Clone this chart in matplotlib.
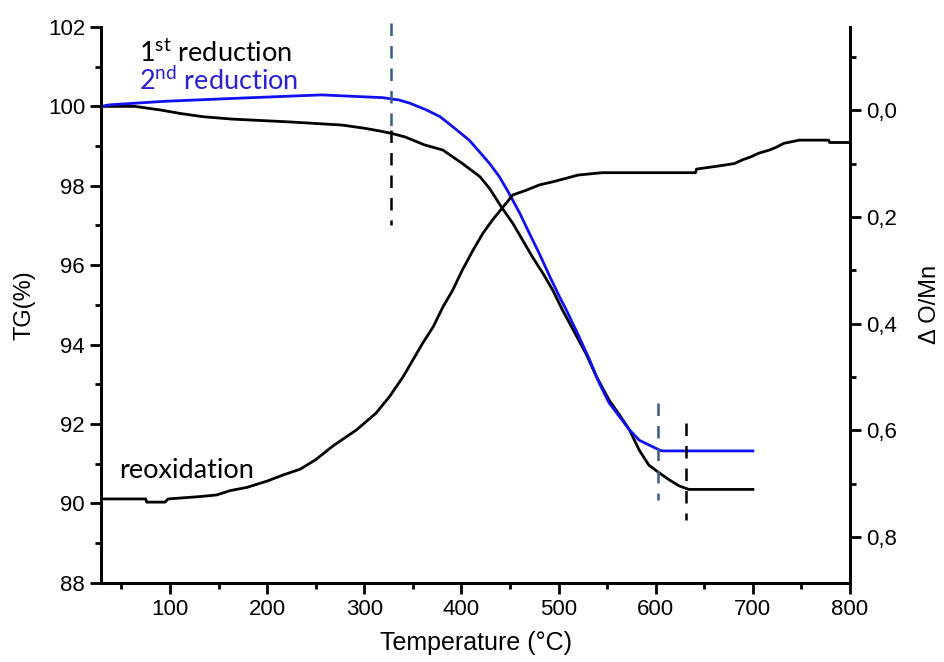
import numpy as np
import matplotlib.pyplot as plt

# 1st reduction (black), TG in %
t_red1 = [29, 64, 90, 111, 134, 164, 222, 277, 300, 316, 328, 342, 362, 381, 401,
          419, 429, 441, 453, 463, 473, 484, 494, 504, 515, 528, 539, 552, 564,
          573, 583, 593, 604, 614, 624, 634, 700]
tg_red1 = [100.0, 100.0, 99.91, 99.82, 99.74, 99.68, 99.61, 99.53, 99.45, 99.38, 99.32,
           99.23, 99.03, 98.90, 98.56, 98.23, 97.93, 97.47, 97.05, 96.63, 96.21, 95.79,
           95.37, 94.87, 94.37, 93.78, 93.19, 92.60, 92.18, 91.85, 91.34, 90.96, 90.76,
           90.59, 90.44, 90.35, 90.35]

# 2nd reduction (blue)
t_red2 = [29, 38, 96, 164, 256, 319, 336, 347, 364, 378, 393, 408, 417, 429, 439, 449,
          460, 470, 480, 491, 501, 508, 521, 532, 542, 552, 573, 583, 593, 604, 607, 700]
tg_red2 = [100.0, 100.04, 100.13, 100.20, 100.29, 100.22, 100.16, 100.08, 99.91, 99.74,
           99.45, 99.15, 98.90, 98.56, 98.23, 97.81, 97.31, 96.80, 96.30, 95.71, 95.20,
           94.87, 94.20, 93.61, 93.02, 92.53, 91.85, 91.59, 91.47, 91.34, 91.32, 91.32]

# reoxidation (black)
t_reox = [29, 75, 76, 95, 98, 131, 148, 162, 179, 200, 216, 234, 250, 268, 292, 312,
          326, 340, 350, 360, 371, 381, 391, 401, 412, 422, 432, 443, 453, 467, 480,
          494, 508, 520, 545, 641, 642, 665, 681, 689, 698, 706, 717, 724, 732, 748,
          778, 779, 800]
tg_reox = [90.11, 90.11, 90.03, 90.03, 90.11, 90.17, 90.21, 90.32, 90.40, 90.56, 90.71,
           90.86, 91.10, 91.45, 91.85, 92.27, 92.69, 93.19, 93.61, 94.03, 94.45, 94.95,
           95.37, 95.88, 96.38, 96.80, 97.14, 97.47, 97.77, 97.89, 98.02, 98.10, 98.19,
           98.27, 98.33, 98.33, 98.42, 98.50, 98.56, 98.65, 98.73, 98.82, 98.90, 98.97,
           99.07, 99.15, 99.15, 99.09, 99.09]

# dashed markers: (T, TG start, TG end)
marks_blue = [(328, 102.1, 99.4), (602, 92.52, 90.08)]
marks_black = [(328, 99.4, 97.0), (631, 92.02, 89.58)]

plt.rcParams['font.family'] = ['Liberation Sans', 'DejaVu Sans']
plt.rcParams['mathtext.fontset'] = 'custom'
plt.rcParams['mathtext.rm'] = 'Lato'

fig = plt.figure(figsize=(9.45, 6.62), dpi=100)
ax = fig.add_axes([0.1069, 0.1198, 0.7926, 0.8394])

ax.plot(t_red1, tg_red1, color='black', lw=2)
ax.plot(t_red2, tg_red2, color='#1010f0', lw=2)
ax.plot(t_reox, tg_reox, color='black', lw=2)

for t, a, b in marks_blue:
    ax.plot([t, t], [a, b], color='#3a5a85', lw=1.8, dashes=(5, 4), clip_on=False)
for t, a, b in marks_black:
    ax.plot([t, t], [a, b], color='black', lw=1.8, dashes=(5, 4))

ax.set_xlim(29, 800)
ax.set_ylim(88, 102)
ax.set_xticks(np.arange(100, 801, 100))
ax.set_xticks(np.arange(50, 801, 100), minor=True)
ax.set_yticks(np.arange(88, 103, 2))
ax.set_yticks(np.arange(89, 102, 2), minor=True)

ax.set_xlabel('Temperature (°C)', fontsize=18, labelpad=8)
ax.set_ylabel('TG(%)', fontsize=17, labelpad=9)

ax2 = ax.twinx()
ax2.set_ylim(0.886, -0.156)
ax2.set_yticks(np.arange(0, 0.81, 0.2))
ax2.set_yticklabels(['0,0', '0,2', '0,4', '0,6', '0,8'])
ax2.set_yticks(np.arange(-0.1, 0.86, 0.2), minor=True)
ax2.set_ylabel('Δ O/Mn', fontsize=17, labelpad=16)

for a in (ax, ax2):
    a.spines['top'].set_visible(False)
    for s in a.spines.values():
        s.set_linewidth(2)
    a.tick_params(which='major', direction='out', length=8, width=2, labelsize=16)
    a.tick_params(which='minor', direction='out', length=4, width=2)

ax.text(68, 101.12, r'1$^{\mathrm{st}}$ reduction', fontsize=19.5, family='Lato', color='black')
ax.text(68, 100.41, r'2$^{\mathrm{nd}}$ reduction', fontsize=19.5, family='Lato', color='#2b22d0')
ax.text(48, 90.64, 'reoxidation', fontsize=19.5, family='Lato', color='black')

fig.savefig('out.png', dpi=100)
